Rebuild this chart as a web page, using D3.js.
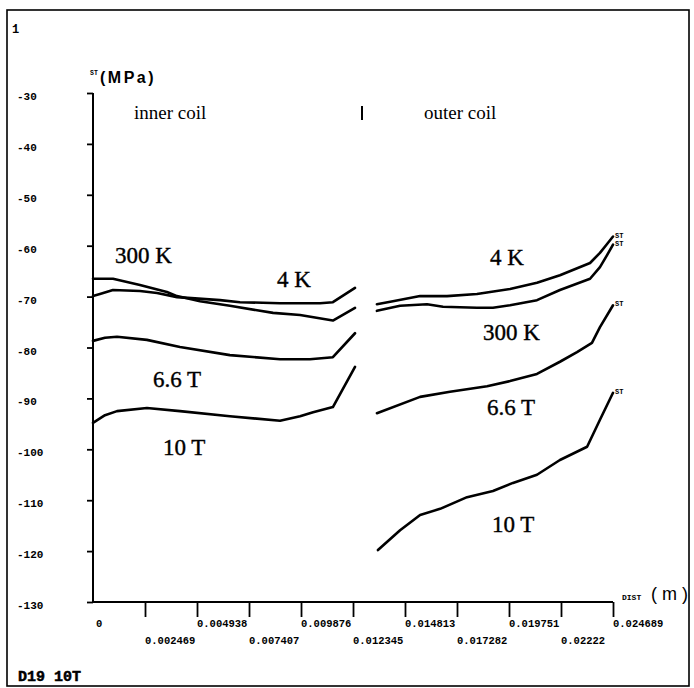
<!DOCTYPE html>
<html>
<head>
<meta charset="utf-8">
<script src="https://cdn.jsdelivr.net/npm/d3@7"></script>
<style>
  html, body { margin: 0; padding: 0; background: #fff; }
  svg { display: block; }
  .mono { font-family: "Liberation Mono", "DejaVu Sans Mono", monospace; font-weight: bold; }
  .serif { font-family: "Liberation Serif", "Times New Roman", serif; }
  .sans { font-family: "Liberation Sans", Arial, sans-serif; }
</style>
</head>
<body>
<svg id="chart" width="694" height="688"></svg>
<script>
// ---- axis ticks ----
const yTicks = [-30, -40, -50, -60, -70, -80, -90, -100, -110, -120, -130];
const xTicks = [0, 0.002469, 0.004938, 0.007407, 0.009876, 0.012345,
                0.014813, 0.017282, 0.019751, 0.02222, 0.024689];
const xTickLabels = ["0", "0.002469", "0.004938", "0.007407", "0.009876", "0.012345",
                     "0.014813", "0.017282", "0.019751", "0.02222", "0.024689"];

// ---- inner coil: distance (m) and stress ST (MPa) ----
const inner300K_dist   = [0, 0.00095, 0.00223, 0.00351, 0.00399, 0.00508, 0.00650, 0.00855, 0.00983, 0.01139, 0.01244];
const inner300K_stress = [-66.5, -66.5, -67.7, -69.1, -69.9, -70.9, -71.8, -73.2, -73.6, -74.7, -72.2];

const inner4K_dist   = [0, 0.00033, 0.00095, 0.00223, 0.00304, 0.00399, 0.00603, 0.00698, 0.00888, 0.01078, 0.01139, 0.01244];
const inner4K_stress = [-69.9, -69.5, -68.7, -68.9, -69.3, -70.1, -70.7, -71.1, -71.3, -71.3, -71.1, -68.3];

const inner66T_dist   = [0, 0.00057, 0.00114, 0.00256, 0.00413, 0.00650, 0.00888, 0.01030, 0.01139, 0.01244];
const inner66T_stress = [-78.7, -78.1, -77.9, -78.5, -79.9, -81.5, -82.3, -82.3, -81.9, -77.2];

const inner10T_dist   = [0, 0.00057, 0.00114, 0.00256, 0.00413, 0.00650, 0.00888, 0.00983, 0.01045, 0.01139, 0.01244];
const inner10T_stress = [-94.8, -93.3, -92.5, -91.9, -92.5, -93.5, -94.4, -93.5, -92.7, -91.7, -83.8];

// ---- outer coil ----
const outer4K_dist   = [0.01348, 0.01424, 0.01553, 0.01681, 0.01823, 0.01980, 0.02108, 0.02217, 0.02360, 0.02407, 0.02436, 0.02469];
const outer4K_stress = [-71.5, -70.9, -69.9, -69.9, -69.5, -68.5, -67.3, -65.8, -63.4, -61.4, -59.9, -58.2];

const outer300K_dist   = [0.01348, 0.01458, 0.01586, 0.01662, 0.01823, 0.01899, 0.01980, 0.02108, 0.02217, 0.02360, 0.02407, 0.02440, 0.02469];
const outer300K_stress = [-72.8, -71.8, -71.5, -72.0, -72.2, -72.2, -71.7, -70.7, -68.7, -66.5, -64.2, -61.9, -59.8];

const outer66T_dist   = [0.01348, 0.01553, 0.01695, 0.01871, 0.01980, 0.02108, 0.02217, 0.02298, 0.02369, 0.02407, 0.02469];
const outer66T_stress = [-92.9, -89.7, -88.7, -87.6, -86.6, -85.2, -82.8, -80.9, -79.1, -76.0, -71.7];

const outer10T_dist   = [0.01353, 0.01458, 0.01553, 0.01648, 0.01776, 0.01899, 0.01994, 0.02108, 0.02217, 0.02346, 0.02407, 0.02469];
const outer10T_stress = [-119.8, -115.9, -112.9, -111.7, -109.4, -108.2, -106.6, -105.0, -102.1, -99.5, -94.2, -88.9];

// curve annotations (text, left x, baseline y)
const curveLabels = [
  ["300 K", 115, 263], ["4 K", 277, 287], ["6.6 T", 153, 387], ["10 T", 163, 455],
  ["4 K", 490, 265], ["300 K", 483, 340], ["6.6 T", 487, 415], ["10 T", 492, 532]
];

const svg = d3.select("#chart");
svg.append("rect").attr("width", 694).attr("height", 688).attr("fill", "#fff");

// frame
svg.append("rect")
  .attr("x", 7).attr("y", 10).attr("width", 682).attr("height", 676)
  .attr("fill", "none").attr("stroke", "#000").attr("stroke-width", 1.6);

const x = d3.scaleLinear().domain([0, 0.024689]).range([93, 613]);
const y = d3.scaleLinear().domain([-130, -30]).range([602, 93]);

// y axis
const yAxis = svg.append("g").attr("transform", `translate(${x(0)},0)`)
  .call(d3.axisLeft(y).tickValues(yTicks).tickSize(6).tickFormat(""));
yAxis.select(".domain").attr("stroke-width", 2).attr("d", `M0,${y(-130)}V${y(-30)}`);
yAxis.selectAll(".tick line").attr("stroke-width", 1.8);

svg.append("g").selectAll("text").data(yTicks).join("text")
  .attr("class", "mono")
  .attr("x", 17).attr("y", d => y(d) + 7)
  .attr("font-size", 11)
  .text(d => String(d));

// x axis
const xAxis = svg.append("g").attr("transform", `translate(0,${y(-130)})`)
  .call(d3.axisBottom(x).tickValues(xTicks.slice(1)).tickSize(15).tickFormat(""));
xAxis.select(".domain").attr("stroke-width", 2).attr("d", `M${x(0)},0H${x(0.024689)}`);
xAxis.selectAll(".tick line").attr("stroke-width", 1.8);

svg.append("g").selectAll("text").data(xTicks).join("text")
  .attr("class", "mono")
  .attr("x", (d, i) => x(d) + (i === 0 ? 3 : 0))
  .attr("y", (d, i) => y(-130) + (i % 2 === 0 ? 25 : 42))
  .attr("font-size", 10.5)
  .text((d, i) => xTickLabels[i]);

// axis titles
svg.append("text").attr("class", "mono").attr("x", 90).attr("y", 75).attr("font-size", 6.5).text("ST");
svg.append("text").attr("class", "sans").attr("x", 100).attr("y", 83)
  .attr("font-size", 16).attr("font-weight", "bold").attr("letter-spacing", 2.5).text("(MPa)");
svg.append("text").attr("class", "mono").attr("x", 622).attr("y", 600).attr("font-size", 8).text("DIST");
svg.append("text").attr("class", "sans").attr("x", 651).attr("y", 600).attr("font-size", 18).text("( m )");

// panel headings
svg.append("text").attr("class", "serif").attr("x", 134).attr("y", 119).attr("font-size", 19).text("inner coil");
svg.append("line").attr("x1", 362).attr("x2", 362).attr("y1", 106).attr("y2", 120)
  .attr("stroke", "#000").attr("stroke-width", 2);
svg.append("text").attr("class", "serif").attr("x", 424).attr("y", 119).attr("font-size", 19).text("outer coil");

// corner marks
svg.append("text").attr("class", "mono").attr("x", 12).attr("y", 33).attr("font-size", 12).text("1");
svg.append("text").attr("class", "mono").attr("x", 18).attr("y", 681).attr("font-size", 15)
  .attr("font-weight", "normal").attr("stroke", "#000").attr("stroke-width", 0.5).text("D19 10T");

// stress curves
const series = [
  [inner300K_dist, inner300K_stress], [inner4K_dist, inner4K_stress],
  [inner66T_dist, inner66T_stress], [inner10T_dist, inner10T_stress],
  [outer4K_dist, outer4K_stress], [outer300K_dist, outer300K_stress],
  [outer66T_dist, outer66T_stress], [outer10T_dist, outer10T_stress]
];
const line = d3.line().x(p => x(p[0])).y(p => y(p[1])).curve(d3.curveLinear);
svg.append("g").selectAll("path").data(series).join("path")
  .attr("d", s => line(d3.zip(s[0], s[1])))
  .attr("fill", "none").attr("stroke", "#000")
  .attr("stroke-width", 2.6).attr("stroke-linejoin", "round").attr("stroke-linecap", "round");

// ST tags at the outer curve ends
svg.append("g").selectAll("text").data(series.slice(4)).join("text")
  .attr("class", "mono").attr("font-size", 7)
  .attr("x", s => x(s[0][s[0].length - 1]) + 2)
  .attr("y", s => y(s[1][s[1].length - 1]) + 1)
  .text("ST");

// curve annotations
svg.append("g").selectAll("text").data(curveLabels).join("text")
  .attr("class", "serif")
  .attr("x", d => d[1]).attr("y", d => d[2])
  .attr("font-size", 23)
  .attr("stroke", "#000").attr("stroke-width", 0.4)
  .text(d => d[0]);
</script>
</body>
</html>
